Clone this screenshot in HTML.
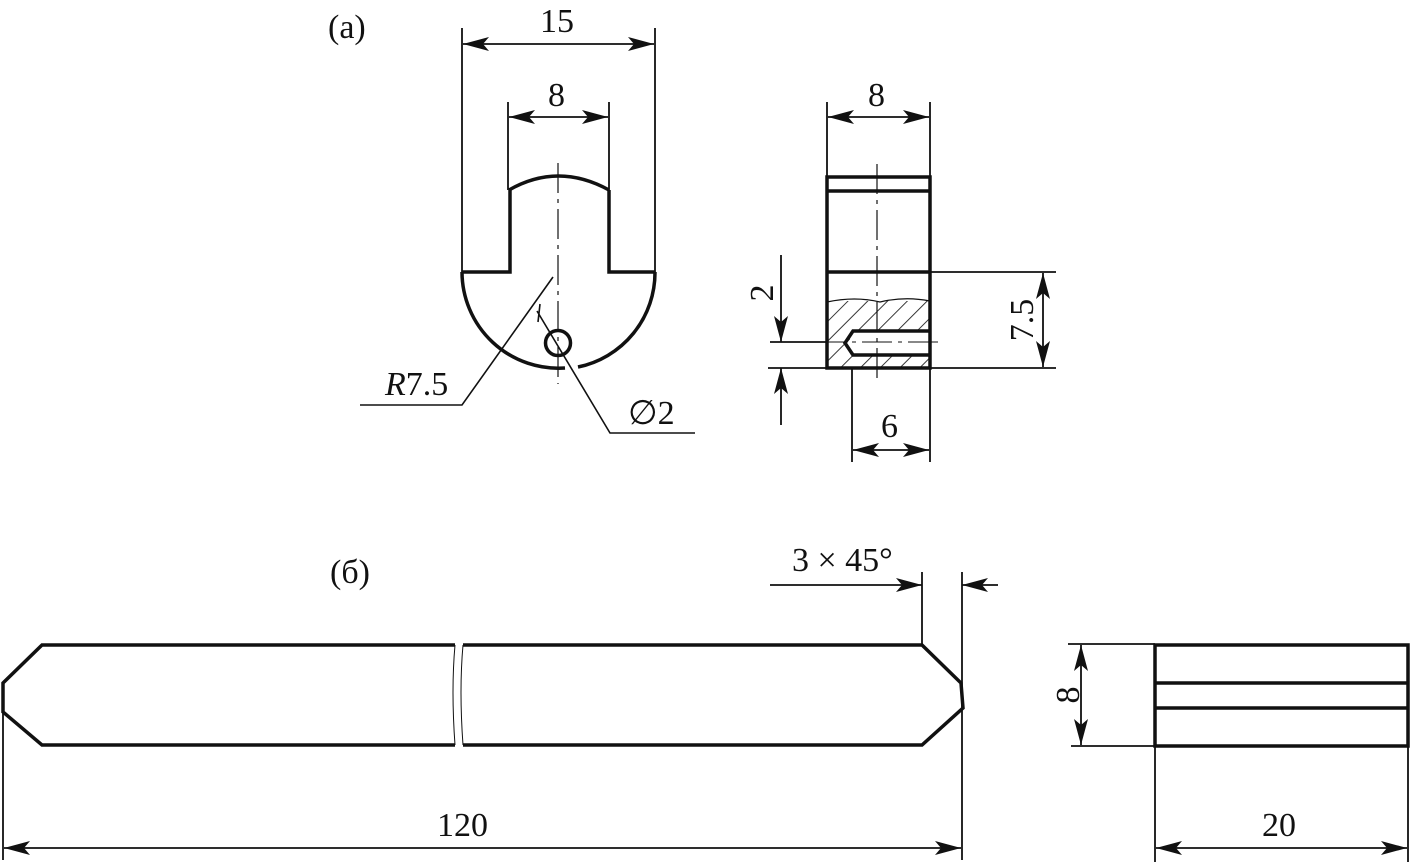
<!DOCTYPE html>
<html><head><style>html,body{margin:0;padding:0;background:#fff}svg{display:block}
text{font-family:"Liberation Serif",serif;font-size:34px;fill:#111}</style></head>
<body>
<svg width="1417" height="867" viewBox="0 0 1417 867" xmlns="http://www.w3.org/2000/svg">
<defs>
<marker id="a" viewBox="0 0 26 14" refX="26" refY="7" markerWidth="26" markerHeight="14" markerUnits="userSpaceOnUse" orient="auto-start-reverse"><path d="M0,0 L26,7 L0,14 L6,7z" fill="#111"/></marker>
<pattern id="h" width="14" height="14" patternUnits="userSpaceOnUse" patternTransform="rotate(45)"><line x1="0" y1="0" x2="0" y2="14" stroke="#222" stroke-width="1.8"/></pattern>
</defs>
<g stroke="#111" fill="none">
<g stroke-width="1.8">
<line x1="462" y1="28" x2="462" y2="272"/><line x1="655" y1="28" x2="655" y2="272"/>
<line x1="508" y1="102" x2="508" y2="190"/><line x1="609" y1="102" x2="609" y2="190"/>
<line x1="463" y1="44" x2="654" y2="44" marker-start="url(#a)" marker-end="url(#a)"/>
<line x1="509" y1="117" x2="608" y2="117" marker-start="url(#a)" marker-end="url(#a)"/>
</g>
<g stroke-width="3.5">
<path d="M509,190 Q558,162 609,190"/>
<path d="M462,272 L510,272 L510,190 M609,190 L609,272 L655,272"/>
<path d="M462,272 A96.5,96.5 0 0 0 565,368"/>
<path d="M578,367 A96.5,96.5 0 0 0 655,272"/>
<circle cx="558" cy="343" r="12.5"/>
</g>
<line x1="558" y1="163" x2="558" y2="384" stroke-width="1.2" stroke-dasharray="30,6,4,6"/>
<g stroke-width="1.6">
<path d="M553,277 L462,405 L360,405"/>
<line x1="540" y1="304" x2="538" y2="322"/>
<path d="M537,311 L610,433 L695,433"/>
</g>
<rect x="827" y="301" width="103" height="67" fill="url(#h)" stroke="none"/>
<path d="M827,278 L930,278 L930,301 Q900,296 880,302 Q855,297 827,302 Z" fill="#fff" stroke="none"/>
<rect x="850" y="331" width="80" height="24" fill="#fff" stroke="none"/>
<path d="M827,302 Q855,296 880,302 Q905,296 930,301" stroke-width="1.2"/>
<g stroke-width="3.5">
<rect x="827" y="177" width="103" height="191"/>
<line x1="827" y1="191" x2="930" y2="191"/>
<line x1="827" y1="272" x2="930" y2="272"/>
<path d="M930,331 L853,331 L845,343 L853,355 L930,355"/>
</g>
<line x1="877" y1="164" x2="877" y2="380" stroke-width="1.2" stroke-dasharray="30,6,4,6"/>
<line x1="770" y1="342" x2="942" y2="342" stroke-width="1" stroke-dasharray="30,6,4,6"/>
<g stroke-width="1.8">
<line x1="827" y1="102" x2="827" y2="177"/><line x1="930" y1="102" x2="930" y2="177"/>
<line x1="828" y1="117" x2="929" y2="117" marker-start="url(#a)" marker-end="url(#a)"/>
<line x1="930" y1="272" x2="1056" y2="272"/><line x1="930" y1="368" x2="1056" y2="368"/>
<line x1="1043" y1="273" x2="1043" y2="367" marker-start="url(#a)" marker-end="url(#a)"/>
<line x1="768" y1="368" x2="827" y2="368"/><line x1="770" y1="342" x2="827" y2="342"/>
<line x1="781" y1="255" x2="781" y2="342" marker-end="url(#a)"/>
<line x1="781" y1="425" x2="781" y2="368" marker-end="url(#a)"/>
<line x1="852" y1="368" x2="852" y2="462"/><line x1="930" y1="368" x2="930" y2="462"/>
<line x1="853" y1="450" x2="929" y2="450" marker-start="url(#a)" marker-end="url(#a)"/>
</g>
<g stroke-width="3.5">
<path d="M455,645 L42,645 L3,683 L3,712 L42,745 L455,745"/>
<path d="M463,645 L922,645 L961,683 L963,708 L922,745 L463,745"/>
<rect x="1155" y="645" width="253" height="101"/>
<line x1="1155" y1="683" x2="1408" y2="683"/><line x1="1155" y1="708" x2="1408" y2="708"/>
</g>
<path d="M455,645 Q451,690 455,745 M463,645 Q459,690 463,745" stroke-width="1"/>
<g stroke-width="1.8">
<line x1="922" y1="572" x2="922" y2="645"/><line x1="962" y1="572" x2="962" y2="860"/>
<line x1="770" y1="585" x2="922" y2="585" marker-end="url(#a)"/>
<line x1="998" y1="585" x2="962" y2="585" marker-end="url(#a)"/>
<line x1="3" y1="712" x2="3" y2="860"/>
<line x1="4" y1="848" x2="961" y2="848" marker-start="url(#a)" marker-end="url(#a)"/>
<line x1="1068" y1="644" x2="1155" y2="644"/><line x1="1071" y1="746" x2="1155" y2="746"/>
<line x1="1081" y1="645" x2="1081" y2="745" marker-start="url(#a)" marker-end="url(#a)"/>
<line x1="1155" y1="746" x2="1155" y2="862"/><line x1="1408" y1="746" x2="1408" y2="862"/>
<line x1="1156" y1="848" x2="1407" y2="848" marker-start="url(#a)" marker-end="url(#a)"/>
</g>
</g>
<text x="328" y="38">(a)</text>
<text x="540" y="32">15</text>
<text x="548" y="106">8</text>
<text x="868" y="106">8</text>
<text x="385" y="395"><tspan font-style="italic">R</tspan>7.5</text>
<text x="628" y="424">∅2</text>
<text x="881" y="437">6</text>
<text transform="translate(773,293) rotate(-90)" text-anchor="middle">2</text>
<text transform="translate(1033,320) rotate(-90)" text-anchor="middle">7.5</text>
<text x="330" y="583">(б)</text>
<text x="792" y="571">3 × 45°</text>
<text x="437" y="836">120</text>
<text transform="translate(1079,695) rotate(-90)" text-anchor="middle">8</text>
<text x="1262" y="836">20</text>
</svg>
</body></html>
